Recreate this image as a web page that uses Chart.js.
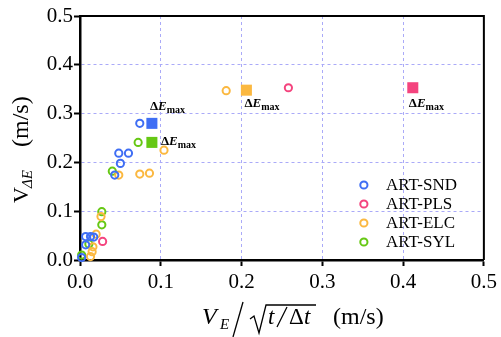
<!DOCTYPE html>
<html>
<head>
    <meta charset="UTF-8">
    <title>V_dE vs V_E</title>
    <script src="https://cdn.jsdelivr.net/npm/chart.js"></script>
    <style>
        body { margin: 0; background: #fff; }
        #wrap { width: 501px; height: 337px; }
    </style>
</head>
<body>
<div id="wrap"><canvas id="chart"></canvas></div>

<script>
    // series names and colours
    var seriesNames = ['ART-SND', 'ART-PLS', 'ART-ELC', 'ART-SYL'];
    var seriesColors = ['#3f6ef4', '#f4447e', '#fbb840', '#66c814'];

    // circles (x = V_E / sqrt(t/dt), y = V_dE), m/s
    var sndX = [0.002, 0.007, 0.007, 0.013, 0.017, 0.043, 0.050, 0.048, 0.060, 0.074];
    var sndY = [0.005, 0.031, 0.048, 0.048, 0.047, 0.174, 0.198, 0.219, 0.219, 0.280];
    var plsX = [0.028, 0.258];
    var plsY = [0.038, 0.353];
    var elcX = [0.013, 0.015, 0.016, 0.020, 0.026, 0.048, 0.074, 0.086, 0.104, 0.181];
    var elcY = [0.007, 0.017, 0.027, 0.053, 0.089, 0.174, 0.176, 0.178, 0.225, 0.347];
    var sylX = [0.002, 0.011, 0.027, 0.027, 0.040, 0.072];
    var sylY = [0.010, 0.033, 0.072, 0.099, 0.182, 0.241];

    // dE_max points (squares), same order as seriesNames
    var maxX = [0.089, 0.412, 0.206, 0.089];
    var maxY = [0.280, 0.353, 0.348, 0.241];

    var xTicks = [0.0, 0.1, 0.2, 0.3, 0.4, 0.5];
    var yTicks = [0.0, 0.1, 0.2, 0.3, 0.4, 0.5];

    var SERIF = '"Liberation Serif", "Times New Roman", serif';

    function pts(xs, ys) {
        var out = [];
        for (var i = 0; i < xs.length; i++) out.push({x: xs[i], y: ys[i]});
        return out;
    }

    var circleX = [sndX, plsX, elcX, sylX];
    var circleY = [sndY, plsY, elcY, sylY];

    var datasets = [];
    for (var i = 0; i < seriesNames.length; i++) {
        datasets.push({
            label: seriesNames[i],
            data: pts(circleX[i], circleY[i]),
            pointStyle: 'circle',
            pointRadius: 3.6,
            pointBorderWidth: 2,
            borderColor: seriesColors[i],
            backgroundColor: 'rgba(255,255,255,0)',
            showLine: false,
            clip: false
        });
    }
    for (var i = 0; i < seriesNames.length; i++) {
        datasets.push({
            label: seriesNames[i] + ' max',
            data: [{x: maxX[i], y: maxY[i]}],
            pointStyle: 'rect',
            pointRadius: 7.8,
            pointBorderWidth: 0,
            borderColor: seriesColors[i],
            backgroundColor: seriesColors[i],
            showLine: false,
            clip: false
        });
    }

    // "ΔEmax" label, left/baseline given
    function drawDeltaEmax(ctx, x, y) {
        ctx.fillStyle = '#000';
        ctx.textBaseline = 'alphabetic';
        ctx.textAlign = 'left';
        ctx.font = 'bold 13px ' + SERIF;
        ctx.fillText('\u0394', x, y);
        x += ctx.measureText('\u0394').width;
        ctx.font = 'italic bold 13px ' + SERIF;
        ctx.fillText('E', x, y);
        x += ctx.measureText('E').width;
        ctx.font = 'bold 10px ' + SERIF;
        ctx.fillText('max', x, y + 3);
    }

    // offsets of the ΔEmax labels from their square
    var labelDx = [-2, -4, -2, 9];
    var labelDy = [-13, 19, 17, 3];

    var decorPlugin = {
        id: 'decor',
        afterDraw: function (chart) {
            var ctx = chart.ctx;
            var a = chart.chartArea;
            var xs = chart.scales.x, ys = chart.scales.y;
            ctx.save();

            // frame top/right
            ctx.strokeStyle = '#000';
            ctx.lineWidth = 2;
            ctx.beginPath();
            ctx.moveTo(a.left, a.top);
            ctx.lineTo(a.right, a.top);
            ctx.lineTo(a.right, a.bottom);
            ctx.stroke();

            // ΔEmax labels
            for (var i = 0; i < seriesNames.length; i++) {
                var px = xs.getPixelForValue(maxX[i]);
                var py = ys.getPixelForValue(maxY[i]);
                drawDeltaEmax(ctx, px + labelDx[i], py + labelDy[i]);
            }

            // legend
            var lx = a.right - 120, ly = a.bottom - 75;
            for (var i = 0; i < seriesNames.length; i++) {
                var yy = ly + i * 19;
                ctx.beginPath();
                ctx.arc(lx, yy, 3.6, 0, Math.PI * 2);
                ctx.lineWidth = 2;
                ctx.strokeStyle = seriesColors[i];
                ctx.stroke();
                ctx.fillStyle = '#000';
                ctx.font = '17px ' + SERIF;
                ctx.textBaseline = 'middle';
                ctx.textAlign = 'left';
                ctx.fillText(seriesNames[i], lx + 22, yy + 1);
            }

            // y title: V_ΔE (m/s)
            ctx.save();
            ctx.translate(28, 203);
            ctx.rotate(-Math.PI / 2);
            ctx.textBaseline = 'alphabetic';
            ctx.fillStyle = '#000';
            ctx.font = '22px ' + SERIF;
            ctx.fillText('V', 0, 0);
            ctx.font = 'italic 15px ' + SERIF;
            ctx.fillText('\u0394E', 15, 4);
            ctx.font = '24px ' + SERIF;
            ctx.fillText('(m/s)', 56, 0);
            ctx.restore();

            // x title: V_E / sqrt(t/Δt) (m/s)
            var by = 324;
            ctx.textBaseline = 'alphabetic';
            ctx.fillStyle = '#000';
            ctx.font = 'italic 24px ' + SERIF;
            ctx.fillText('V', 202, by);
            ctx.font = 'italic 15px ' + SERIF;
            ctx.fillText('E', 220, by + 5);
            ctx.strokeStyle = '#000';
            ctx.lineWidth = 1.3;
            // big slash
            ctx.beginPath();
            ctx.moveTo(233, 337);
            ctx.lineTo(243, 302);
            ctx.stroke();
            // radical
            ctx.beginPath();
            ctx.moveTo(250, 319);
            ctx.lineTo(254, 316);
            ctx.lineTo(259, 333);
            ctx.lineTo(266, 305);
            ctx.lineTo(316, 305);
            ctx.stroke();
            ctx.font = 'italic 23px ' + SERIF;
            ctx.fillText('t', 268, by);
            // inner slash
            ctx.beginPath();
            ctx.moveTo(277, by + 3);
            ctx.lineTo(287, by - 17);
            ctx.stroke();
            ctx.font = '23px ' + SERIF;
            ctx.fillText('\u0394', 289, by);
            ctx.font = 'italic 23px ' + SERIF;
            ctx.fillText('t', 304, by);
            ctx.font = '24px ' + SERIF;
            ctx.fillText('(m/s)', 333, by);

            ctx.restore();
        }
    };

    var gridBlue = '#aaaaf8';

    var ctx = document.getElementById('chart').getContext('2d');
    var chart = new Chart(ctx, {
        type: 'scatter',
        data: { datasets: datasets },
        options: {
            responsive: true,
            maintainAspectRatio: false,
            animation: false,
            layout: { padding: { left: 0, right: 14, top: 16, bottom: 0 } },
            plugins: {
                legend: { display: false },
                tooltip: { enabled: false }
            },
            scales: {
                x: {
                    type: 'linear',
                    min: xTicks[0],
                    max: xTicks[xTicks.length - 1],
                    afterBuildTicks: function (s) {
                        s.ticks = xTicks.map(function (v) { return {value: v}; });
                    },
                    afterFit: function (s) { s.height = 77; },
                    ticks: {
                        color: '#000',
                        padding: 4,
                        maxRotation: 0,
                        font: { family: SERIF, size: 21 },
                        callback: function (v) { return v.toFixed(1); }
                    },
                    grid: {
                        color: gridBlue,
                        lineWidth: 1,
                        tickColor: '#000',
                        tickWidth: 2,
                        tickLength: 6
                    },
                    border: { color: '#000', width: 2.5, dash: [3, 3] },
                    title: { display: false }
                },
                y: {
                    type: 'linear',
                    min: yTicks[0],
                    max: yTicks[yTicks.length - 1],
                    afterBuildTicks: function (s) {
                        s.ticks = yTicks.map(function (v) { return {value: v}; });
                    },
                    afterFit: function (s) { s.width = 80; },
                    ticks: {
                        color: '#000',
                        padding: 1,
                        font: { family: SERIF, size: 21 },
                        callback: function (v) { return v.toFixed(1); }
                    },
                    grid: {
                        color: gridBlue,
                        lineWidth: 1,
                        tickColor: '#000',
                        tickWidth: 2,
                        tickLength: 6
                    },
                    border: { color: '#000', width: 2.5, dash: [3, 3] },
                    title: { display: false }
                }
            }
        },
        plugins: [decorPlugin]
    });
</script>
</body>
</html>
